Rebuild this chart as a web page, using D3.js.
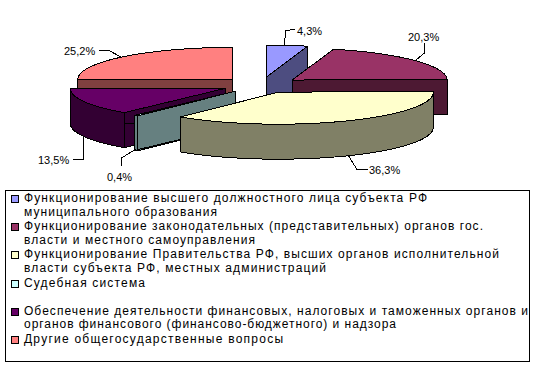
<!DOCTYPE html>
<html>
<head>
<meta charset="utf-8">
<script src="https://cdn.jsdelivr.net/npm/d3@7"></script>
<style>
html, body { margin: 0; padding: 0; background: #fff; }
svg { display: block; }
text { font-family: "Liberation Sans", Arial, sans-serif; fill: #000; }
</style>
</head>
<body>
<svg id="chart"></svg>
<script>
const width = 536;
const height = 370;

const values = [4.3, 20.3, 36.3, 0.4, 13.5, 25.2];
const valueLabels = ["4,3%", "20,3%", "36,3%", "0,4%", "13,5%", "25,2%"];
const topColors = ["#9999ff", "#993366", "#ffffcc", "#ccffff", "#660066", "#ff8080"];
const sideColors = ["#4d4d80", "#4d1933", "#808066", "#668080", "#330033", "#804040"];
const categories = [
	["Функционирование высшего должностного лица субъекта РФ", "муниципального образования"],
	["Функционирование законодательных (представительных) органов гос.", "власти и местного самоуправления"],
	["Функционирование Правительства РФ, высших органов исполнительной", "власти субъекта РФ, местных администраций"],
	["Судебная система"],
	["Обеспечение деятельности финансовых, налоговых и таможенных органов и", "органов финансового (финансово-бюджетного) и надзора"],
	["Другие общегосударственные вопросы"]
];
// where each legend line ends in the picture, the old bitmap font ran wide
const lineEnds = [[427, 217], [483, 255], [499, 326], [145], [528, 396], [283]];
// painter's order, back slices first
const drawOrder = [0, 5, 1, 4, 3, 2];

const svg = d3.select("#chart").attr("width", width).attr("height", height);

const cx = 261, cy = 85, rx = 155, ry = 32, depth = 35;
const explodeX = 39.5, explodeY = 8;

const pie = d3.pie().sort(null).value(d => d);
const slices = pie(values);

// unit circle -> flattened ellipse
const xs = d3.scaleLinear().domain([-1, 1]).range([-rx, rx]);
const ys = d3.scaleLinear().domain([-1, 1]).range([-ry, ry]);

function apex(s) {
	const mid = (s.startAngle + s.endAngle) / 2;
	return [cx + explodeX * Math.sin(mid), cy - explodeY * Math.cos(mid)];
}
function rim(s, a) {
	const o = apex(s);
	return [o[0] + xs(Math.sin(a)), o[1] + ys(-Math.cos(a))];
}
function arcPoints(s, a0, a1) {
	const n = Math.max(2, Math.ceil((a1 - a0) / 0.03));
	return d3.range(n + 1).map(i => rim(s, a0 + (a1 - a0) * i / n));
}
const down = p => [p[0], p[1] + depth];
const line = d3.line();
const poly = pts => line(pts) + "Z";

const pieG = svg.append("g").attr("shape-rendering", "crispEdges");

drawOrder.forEach(i => {
	const s = slices[i];
	const o = apex(s);
	const g = pieG.append("g")
		.attr("stroke", "#000")
		.attr("stroke-width", 1)
		.attr("stroke-linejoin", "round");

	[s.startAngle, s.endAngle].forEach(a => {
		const p = rim(s, a);
		g.append("path")
			.attr("d", poly([o, p, down(p), down(o)]))
			.attr("fill", sideColors[i]);
	});

	// outer wall, only the part that faces the viewer
	const a0 = Math.max(s.startAngle, Math.PI / 2);
	const a1 = Math.min(s.endAngle, Math.PI * 1.5);
	if (a1 > a0) {
		const pts = arcPoints(s, a0, a1);
		g.append("path")
			.attr("d", poly(pts.concat(pts.map(down).reverse())))
			.attr("fill", sideColors[i]);
	}

	g.append("path")
		.attr("d", poly([o].concat(arcPoints(s, s.startAngle, s.endAngle))))
		.attr("fill", topColors[i]);
});

// data labels and their leader lines
const leaders = [
	[[284.5, 46], [285.5, 30.5], [295, 29.5]],
	[[416, 60], [424.5, 53], [424.5, 43]],
	[[348, 155], [357, 169.5], [368, 169.5]],
	[[136, 149], [121.5, 158], [121.5, 166]],
	[[83.5, 137], [83.5, 159.5], [73, 159.5]],
	[[121, 57], [109, 50.5], [99, 50.5]]
];
const labelX = [297, 408, 369, 107, 38, 64];
const labelY = [35, 41, 174, 181, 164, 55];

svg.append("g").selectAll("path")
	.data(leaders).enter()
	.append("path")
	.attr("d", d => line(d))
	.attr("fill", "none")
	.attr("stroke", "#000")
	.attr("stroke-width", 1)
	.attr("shape-rendering", "crispEdges");

svg.append("g").selectAll("text")
	.data(valueLabels).enter()
	.append("text")
	.attr("x", (d, i) => labelX[i])
	.attr("y", (d, i) => labelY[i])
	.attr("font-size", 11)
	.text(d => d);

// legend
svg.append("rect")
	.attr("x", 5.5)
	.attr("y", 190.5)
	.attr("width", 524)
	.attr("height", 171)
	.attr("fill", "#fff")
	.attr("stroke", "#000");

const textX = 24;
const rowY = d3.scaleLinear().domain([0, 5]).range([202, 343]);

const rows = svg.append("g").selectAll("g")
	.data(categories).enter()
	.append("g");

rows.append("rect")
	.attr("x", 11.5)
	.attr("y", (d, i) => Math.round(rowY(i)) - 6.5)
	.attr("width", 7)
	.attr("height", 7)
	.attr("fill", (d, i) => topColors[i])
	.attr("stroke", "#000");

rows.selectAll("text")
	.data((d, i) => d.map((t, j) => ({ t: t, y: rowY(i) + j * 13.5, end: lineEnds[i][j] })))
	.enter()
	.append("text")
	.attr("x", textX)
	.attr("y", d => d.y)
	.attr("font-size", 12)
	.attr("textLength", d => d.end - textX)
	.attr("lengthAdjust", "spacing")
	.text(d => d.t);
</script>
</body>
</html>
